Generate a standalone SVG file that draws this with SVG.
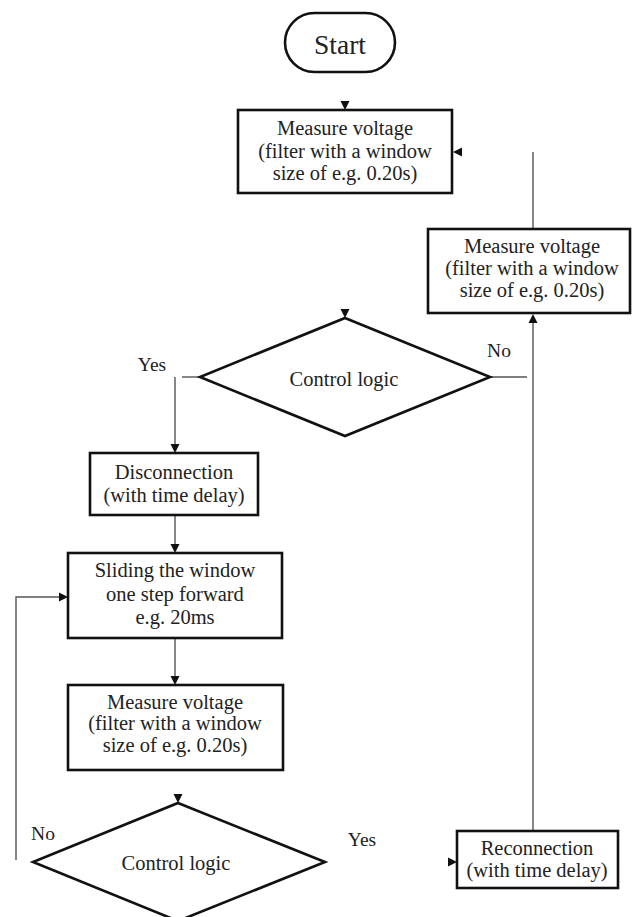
<svg xmlns="http://www.w3.org/2000/svg" xmlns:xlink="http://www.w3.org/1999/xlink" width="632" height="917" viewBox="0 0 632 917">
<style>
.shape{fill:#fff;stroke:#111;stroke-width:2.6}
.t{font-family:"Liberation Serif","Times New Roman",serif;font-size:20.5px;fill:#222;text-anchor:middle}
.lbl{font-family:"Liberation Serif","Times New Roman",serif;font-size:19.5px;fill:#222;text-anchor:middle}
.c{fill:none;stroke:#555;stroke-width:1.4}
.ah{fill:#111}
</style>
<defs>
<path id="ad" class="ah" d="M-4.5,-9 L4.5,-9 L0,0 Z"/>
</defs>
<rect width="632" height="917" fill="#fff"/>
<g id="connectors">
<use xlink:href="#ad" transform="translate(345,110)"/>
<use xlink:href="#ad" transform="translate(453,152) rotate(90)"/>
<line class="c" x1="533" y1="152" x2="533" y2="228"/>
<use xlink:href="#ad" transform="translate(345,318)"/>
<line class="c" x1="490" y1="377" x2="527" y2="377"/>
<line class="c" x1="533" y1="831" x2="533" y2="322"/>
<use xlink:href="#ad" transform="translate(533,314) rotate(180)"/>
<line class="c" x1="182" y1="377" x2="200" y2="377"/>
<line class="c" x1="175" y1="377" x2="175" y2="445"/>
<use xlink:href="#ad" transform="translate(175,453)"/>
<line class="c" x1="175" y1="515" x2="175" y2="545"/>
<use xlink:href="#ad" transform="translate(175,553)"/>
<line class="c" x1="175" y1="638" x2="175" y2="677"/>
<use xlink:href="#ad" transform="translate(175,685)"/>
<use xlink:href="#ad" transform="translate(178,803)"/>
<polyline class="c" points="16,860 16,597 60,597"/>
<use xlink:href="#ad" transform="translate(68,597) rotate(-90)"/>
<use xlink:href="#ad" transform="translate(457,862) rotate(-90)"/>
</g>
<g id="start">
<rect class="shape" x="285" y="13" width="110" height="59" rx="29.5"/>
<text class="t" x="340" y="54" style="font-size:27.5px">Start</text>
</g>
<g id="measure1">
<rect class="shape" x="238" y="110" width="214" height="83"/>
<text class="t" x="345" y="135">Measure voltage</text>
<text class="t" x="345" y="158">(filter with a window</text>
<text class="t" x="345" y="180">size of e.g. 0.20s)</text>
</g>
<g id="measure2">
<rect class="shape" x="428" y="229" width="202" height="84"/>
<text class="t" x="532" y="253">Measure voltage</text>
<text class="t" x="532" y="275">(filter with a window</text>
<text class="t" x="532" y="297">size of e.g. 0.20s)</text>
</g>
<g id="control1">
<polygon class="shape" points="345,318 490,377 345,436 200,377"/>
<text class="t" x="344" y="386">Control logic</text>
</g>
<g id="labels1">
<text class="lbl" x="152" y="371">Yes</text>
<text class="lbl" x="499" y="357">No</text>
</g>
<g id="disconnection">
<rect class="shape" x="90" y="453" width="168" height="62"/>
<text class="t" x="174" y="479">Disconnection</text>
<text class="t" x="174" y="502">(with time delay)</text>
</g>
<g id="sliding">
<rect class="shape" x="68" y="553" width="214" height="85"/>
<text class="t" x="175" y="577">Sliding the window</text>
<text class="t" x="175" y="601">one step forward</text>
<text class="t" x="175" y="624">e.g. 20ms</text>
</g>
<g id="measure3">
<rect class="shape" x="68" y="685" width="215" height="85"/>
<text class="t" x="175" y="709">Measure voltage</text>
<text class="t" x="175" y="730">(filter with a window</text>
<text class="t" x="175" y="752">size of e.g. 0.20s)</text>
</g>
<g id="control2">
<polygon class="shape" points="178,803 325,862 178,921 33,862"/>
<text class="t" x="176" y="870">Control logic</text>
</g>
<g id="labels2">
<text class="lbl" x="43" y="840">No</text>
<text class="lbl" x="362" y="846">Yes</text>
</g>
<g id="reconnection">
<rect class="shape" x="457" y="831" width="161" height="57"/>
<text class="t" x="537" y="855">Reconnection</text>
<text class="t" x="537" y="877">(with time delay)</text>
</g>
</svg>
